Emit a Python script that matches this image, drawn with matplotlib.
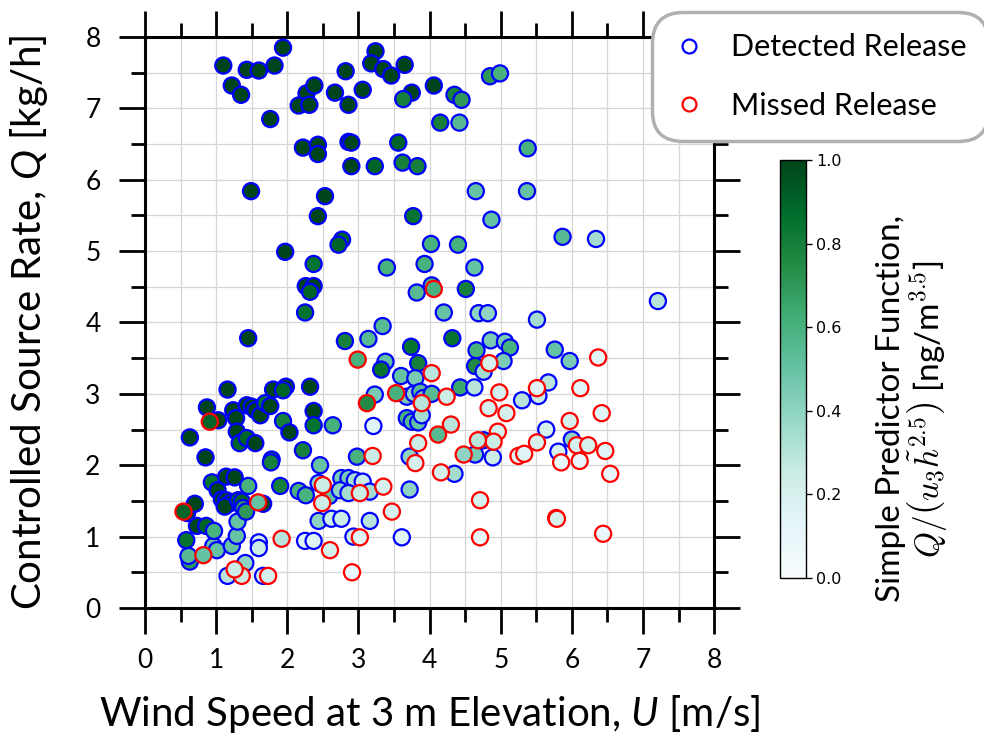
import matplotlib
matplotlib.use('Agg')
import matplotlib.pyplot as plt
from matplotlib.lines import Line2D
from matplotlib.ticker import MultipleLocator

plt.rcParams['font.family'] = ['Lato', 'DejaVu Sans']
plt.rcParams['mathtext.fontset'] = 'custom'
plt.rcParams['mathtext.it'] = 'Lato:style=italic'
plt.rcParams['mathtext.rm'] = 'Lato'

# detected releases: wind speed U [m/s], source rate Q [kg/h], predictor value
det_u = [1.94, 1.10, 1.43, 1.60, 1.82, 1.22, 1.35, 1.76, 2.27, 2.38, 2.16, 2.31, 2.67, 2.82, 2.86,
         3.06, 3.24, 3.18, 3.35, 3.46, 3.65, 3.75, 3.63, 4.06, 4.85, 4.99, 4.35, 4.45, 4.15, 4.42,
         2.22, 2.43, 2.43, 2.86, 2.90, 2.90, 3.23, 3.56, 3.62, 3.83, 5.38, 1.49, 2.53, 2.43, 3.77,
         4.65, 5.37, 2.77, 2.72, 1.97, 4.87, 5.87, 6.34, 4.02, 4.40, 2.37, 3.40, 3.93, 4.63, 2.26,
         2.37, 2.32, 2.25, 3.82, 4.03, 4.51, 7.21, 4.20, 4.69, 4.82, 5.51,
         3.74, 4.32, 4.66, 4.86, 5.06, 5.13, 5.04, 5.76, 5.97, 3.84, 4.64, 4.76, 3.60, 3.80,
         4.43, 4.63, 5.67, 5.53, 5.30, 4.76, 5.64, 6.00, 5.81, 4.64, 4.89, 3.72, 4.35, 3.72, 3.61,
         1.45, 2.81, 3.14, 3.34, 3.38, 3.32, 3.23, 3.68, 3.78, 3.87, 3.91, 4.03, 3.68, 3.75, 3.84,
         3.89, 3.21, 2.98, 2.46, 2.22, 1.80, 1.98, 1.94, 2.32, 1.16, 0.87, 1.03, 1.24, 1.28, 1.43,
         1.50, 1.55, 1.62, 1.69, 1.76, 2.37, 2.37, 2.64, 1.94, 2.03, 0.63, 1.29, 1.33, 1.43, 1.55,
         1.78, 1.77, 0.85, 1.90, 2.16, 2.26, 2.44, 2.59, 2.76, 2.86, 2.95, 3.06, 3.16, 2.74, 2.86,
         2.44, 2.62, 2.76, 3.16, 2.93, 2.25, 2.37, 1.60, 1.60, 1.41, 1.16, 1.66, 0.63, 0.61, 0.58,
         0.96, 1.01, 1.22, 1.29, 1.30, 0.59, 0.70, 0.73, 0.86, 0.97, 0.94, 1.02, 1.14, 1.26, 1.08,
         1.14, 1.20, 1.12, 1.31, 1.36, 1.38, 1.42, 1.45, 1.66]
det_q = [7.85, 7.60, 7.54, 7.53, 7.60, 7.32, 7.19, 6.85, 7.21, 7.32, 7.04, 7.05, 7.22, 7.52, 7.05,
         7.26, 7.80, 7.63, 7.55, 7.46, 7.61, 7.22, 7.13, 7.32, 7.45, 7.49, 7.19, 7.12, 6.80, 6.80,
         6.45, 6.49, 6.36, 6.53, 6.52, 6.19, 6.19, 6.52, 6.24, 6.19, 6.44, 5.84, 5.77, 5.49, 5.49,
         5.84, 5.84, 5.16, 5.09, 4.99, 5.44, 5.20, 5.17, 5.10, 5.09, 4.82, 4.77, 4.82, 4.77, 4.51,
         4.51, 4.43, 4.14, 4.42, 4.52, 4.47, 4.30, 4.14, 4.13, 4.13, 4.04,
         3.66, 3.78, 3.61, 3.75, 3.73, 3.65, 3.46, 3.62, 3.46, 3.43, 3.39, 3.31, 3.25, 3.22,
         3.09, 3.09, 3.16, 2.97, 2.91, 2.35, 2.50, 2.36, 2.19, 2.15, 2.11, 2.12, 1.88, 1.66, 0.99,
         3.78, 3.74, 3.77, 3.95, 3.45, 3.34, 2.99, 2.96, 3.00, 3.03, 2.94, 3.00, 2.66, 2.61, 2.60,
         2.70, 2.55, 2.12, 2.00, 2.21, 3.06, 3.10, 3.05, 3.10, 3.06, 2.81, 2.63, 2.77, 2.66, 2.84,
         2.82, 2.77, 2.70, 2.87, 2.83, 2.76, 2.56, 2.56, 2.62, 2.46, 2.39, 2.47, 2.31, 2.38, 2.31,
         2.08, 2.04, 2.11, 1.71, 1.64, 1.58, 1.75, 1.57, 1.82, 1.82, 1.79, 1.77, 1.63, 1.65, 1.61,
         1.22, 1.25, 1.25, 1.22, 1.00, 0.94, 0.94, 0.92, 0.84, 0.63, 0.45, 0.45, 0.65, 0.73, 0.95,
         0.87, 0.81, 0.87, 1.01, 1.21, 1.33, 1.46, 1.15, 1.15, 1.08, 1.76, 1.65, 1.84, 1.83, 1.52,
         1.51, 1.47, 1.42, 1.51, 1.49, 1.40, 1.35, 1.71, 1.46]
det_p = [1.0, 1.0, 1.0, 1.0, 1.0, 1.0, 1.0, 1.0, 1.0, 1.0, 1.0, 1.0, 1.0, 1.0, 1.0,
         1.0, 1.0, 1.0, 1.0, 1.0, 1.0, 1.0, 0.8, 1.0, 0.7, 0.6, 0.8, 0.7, 0.8, 0.55,
         1.0, 1.0, 1.0, 1.0, 1.0, 1.0, 0.9, 0.9, 0.8, 0.8, 0.6, 1.0, 1.0, 1.0, 0.85,
         0.5, 0.5, 0.9, 0.9, 1.0, 0.5, 0.55, 0.35, 0.6, 0.6, 0.85, 0.6, 0.6, 0.5, 1.0,
         1.0, 0.9, 0.85, 0.55, 0.6, 0.8, 0.3, 0.5, 0.4, 0.4, 0.35,
         0.85, 0.85, 0.6, 0.45, 0.45, 0.6, 0.45, 0.5, 0.45, 0.8, 0.75, 0.35, 0.5, 0.45,
         0.65, 0.3, 0.3, 0.25, 0.3, 0.65, 0.2, 0.4, 0.2, 0.45, 0.25, 0.4, 0.35, 0.4, 0.15,
         1.0, 0.8, 0.55, 0.55, 0.5, 0.85, 0.45, 0.45, 0.4, 0.55, 0.45, 0.55, 0.6, 0.55, 0.5,
         0.35, 0.15, 0.6, 0.5, 0.8, 1.0, 1.0, 0.9, 1.0, 1.0, 1.0, 1.0, 1.0, 1.0, 1.0,
         1.0, 1.0, 1.0, 0.85, 1.0, 1.0, 0.85, 0.6, 0.8, 1.0, 1.0, 1.0, 0.9, 0.9, 1.0,
         0.85, 0.8, 1.0, 0.8, 0.6, 0.6, 0.4, 0.5, 0.45, 0.45, 0.35, 0.25, 0.35, 0.4, 0.35,
         0.4, 0.25, 0.25, 0.3, 0.25, 0.15, 0.15, 0.2, 0.25, 0.4, 0.3, 0.2, 0.7, 0.55, 0.85,
         0.5, 0.5, 0.5, 0.5, 0.5, 1.0, 1.0, 1.0, 0.9, 0.6, 0.85, 1.0, 1.0, 1.0, 1.0,
         1.0, 1.0, 1.0, 0.9, 0.9, 0.7, 0.7, 0.6, 1.0]

# missed releases
mis_u = [4.06, 6.37, 4.84, 4.03, 4.24, 4.98, 5.51, 6.12, 4.83, 5.08, 6.42, 5.97, 4.30, 4.12, 3.84,
         4.96, 4.90, 5.51, 6.07, 6.23, 6.47, 5.85, 6.11, 6.54, 4.48, 5.25, 5.33, 3.80, 4.16, 4.71,
         5.78, 5.79, 4.71, 6.44, 2.99, 3.53, 3.12, 3.89, 3.20, 0.91, 2.50, 2.49, 3.02, 3.35, 3.47,
         3.02, 2.60, 2.91, 1.92, 1.36, 1.26, 1.73, 0.54, 0.82, 1.59, 4.68]
mis_q = [4.47, 3.51, 3.43, 3.29, 2.96, 3.02, 3.08, 3.08, 2.80, 2.73, 2.73, 2.62, 2.57, 2.43, 2.31,
         2.47, 2.33, 2.32, 2.28, 2.28, 2.20, 2.04, 2.06, 1.88, 2.15, 2.13, 2.16, 2.03, 1.90, 1.51,
         1.26, 1.25, 0.99, 1.04, 3.48, 3.01, 2.87, 2.87, 2.13, 2.61, 1.72, 1.47, 1.61, 1.70, 1.35,
         0.99, 0.81, 0.50, 0.97, 0.45, 0.54, 0.45, 1.35, 0.74, 1.48, 2.35]
mis_p = [0.6, 0.15, 0.2, 0.3, 0.25, 0.2, 0.15, 0.15, 0.2, 0.2, 0.15, 0.2, 0.3, 0.55, 0.25,
         0.2, 0.25, 0.2, 0.2, 0.2, 0.15, 0.1, 0.1, 0.1, 0.4, 0.15, 0.15, 0.2, 0.2, 0.2,
         0.2, 0.2, 0.1, 0.1, 0.6, 0.6, 0.75, 0.3, 0.25, 0.9, 0.25, 0.25, 0.25, 0.2, 0.2,
         0.15, 0.2, 0.1, 0.3, 0.25, 0.25, 0.2, 0.9, 0.5, 0.5, 0.3]

fig = plt.figure(figsize=(9.84, 7.41), dpi=100)
ax = fig.add_axes([0.1474, 0.1795, 0.5783, 0.7706])
cax = fig.add_axes([0.7927, 0.22, 0.0264, 0.564])

sc = ax.scatter(det_u, det_q, c=det_p, cmap='BuGn', vmin=0, vmax=1, s=135,
                edgecolors='blue', linewidths=1.6, zorder=3)
ax.scatter(mis_u, mis_q, c=mis_p, cmap='BuGn', vmin=0, vmax=1, s=135,
           edgecolors='red', linewidths=1.6, zorder=3)

ax.set_xlim(0, 8)
ax.set_ylim(0, 8)
ax.xaxis.set_major_locator(MultipleLocator(1))
ax.yaxis.set_major_locator(MultipleLocator(1))
ax.xaxis.set_minor_locator(MultipleLocator(0.5))
ax.yaxis.set_minor_locator(MultipleLocator(0.5))
ax.set_axisbelow(True)
ax.grid(which='both', color='#d6d6d6', linewidth=0.9)
ax.tick_params(which='major', direction='out', length=19, width=2, top=True, right=True,
               labelsize=19, pad=10)
ax.tick_params(axis='y', which='major', pad=13)
ax.tick_params(which='minor', direction='out', length=10, width=2, top=True, right=True)
for sp in ax.spines.values():
    sp.set_linewidth(2.2)

ax.set_xlabel('Wind Speed at 3 m Elevation, $U$ [m/s]', fontsize=29, labelpad=14)
ax.set_ylabel('Controlled Source Rate, $Q$ [kg/h]', fontsize=29)
ax.yaxis.set_label_coords(-0.167, 0.5)

cb = fig.colorbar(sc, cax=cax)
cb.ax.tick_params(labelsize=11.5, length=4, width=1)
for t in cb.ax.get_yticklabels():
    t.set_family('DejaVu Sans')
cb.outline.set_linewidth(1)
cb.set_label('Simple Predictor Function,\n$Q/\\left(u_3\\tilde{h}^{2.5}\\right)$ [ng/m$^{3.5}$]',
             fontsize=24, math_fontfamily='cm', linespacing=1.0)
cb.ax.yaxis.set_label_coords(3.7, 0.405)

handles = [Line2D([], [], ls='none', marker='o', mfc='none', mec='blue', ms=10, mew=1.6),
           Line2D([], [], ls='none', marker='o', mfc='none', mec='red', ms=10, mew=1.6)]
leg = fig.legend(handles, ['Detected Release', 'Missed Release'], loc='upper left',
                 bbox_to_anchor=(652 / 984, 1 - 12 / 741), fontsize=22, frameon=True,
                 handlelength=1.0, handletextpad=0.9, labelspacing=1.0, borderpad=0.7,
                 borderaxespad=0)
frame = leg.get_frame()
frame.set_boxstyle('round', pad=0, rounding_size=1.0)
frame.set_edgecolor('#b0b0b0')
frame.set_linewidth(2.5)
frame.set_alpha(1)

fig.savefig('out.png', dpi=100)
